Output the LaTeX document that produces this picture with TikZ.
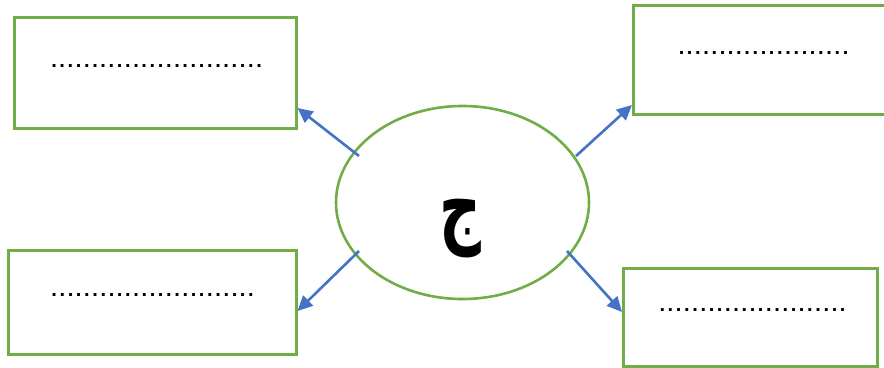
\documentclass[tikz,border=0pt]{standalone}
\usepackage{fontspec}
\usetikzlibrary{shapes.geometric,arrows.meta,calc}
\newfontfamily\dotfont[LetterSpace=13.2]{Liberation Sans Bold}
\newfontfamily\arabicfont[Script=Arabic]{DejaVu Sans}
\TeXXeTstate=1
\definecolor{boxgreen}{HTML}{70AD47}
\definecolor{arrowblue}{HTML}{4472C4}
\begin{document}
\begin{tikzpicture}[x=1pt,y=-1pt,
  box/.style={draw=boxgreen,line width=3pt,fill=white,rectangle,inner sep=0pt},
  dotrow/.style={inner sep=0pt,font=\dotfont\fontsize{20}{20}\selectfont},
  link/.style={draw=arrowblue,line width=2.6pt,-{Triangle[length=15pt,width=14pt]}}]
\useasboundingbox (0,0) rectangle (884,367);
\fill[white] (0,0) rectangle (884,367);
% boxes
\node[box,minimum width=282pt,minimum height=111pt] (tl) at (155,72.5) {};
\node[box,minimum width=258pt,minimum height=109pt] (tr) at (762.5,59.5) {};
\node[box,minimum width=288pt,minimum height=104pt] (bl) at (152,302) {};
\node[box,minimum width=253.5pt,minimum height=98pt] (br) at (750.25,317) {};
% dotted placeholders
\node[dotrow] (tlt) at (156.5,66) {..........................};
\node[dotrow] (trt) at (763.5,53) {.....................};
\node[dotrow] (blt) at (152.5,295) {.........................};
\node[dotrow] (brt) at (752.5,310) {.......................};
% ellipse
\node[ellipse,draw=boxgreen,line width=2.6pt,minimum width=253pt,minimum height=193pt,inner sep=0pt] (c) at (462.5,202.5) {};
\node[inner sep=0pt,font=\arabicfont\bfseries\fontsize{88}{88}\selectfont] (j) at (460,229) {\scalebox{0.66}[1]{\beginR ج\endR}};
% arrow end points
\coordinate (s1) at (359,156);
\coordinate (s2) at (576,156);
\coordinate (s3) at (359,251);
\coordinate (s4) at (567,251);
\draw[link] (s1) -- (tl.east |- 0,108);
\draw[link] (s2) -- (tr.west |- 0,105);
\draw[link] (s3) -- (bl.east |- 0,311);
\draw[link] (s4) -- (br.west |- 0,312);
\end{tikzpicture}
\end{document}
